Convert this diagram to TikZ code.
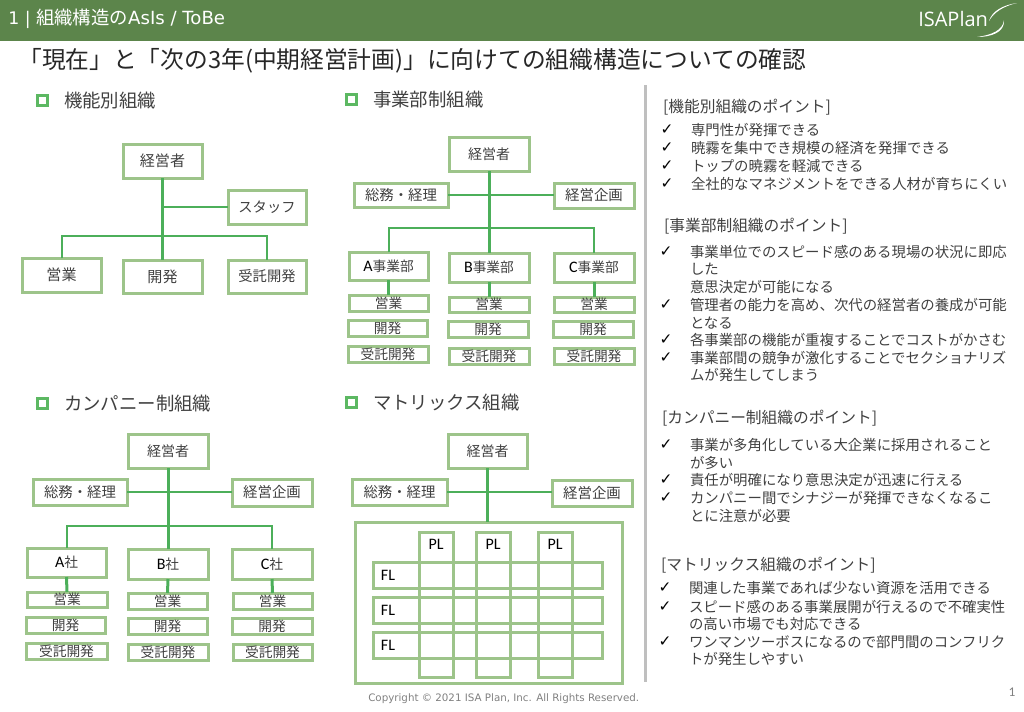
\documentclass[tikz,border=0pt]{standalone}
\usepackage{fontspec}
\setmainfont{Noto Sans CJK JP}
\newfontfamily\carlitofont{Carlito}
\newfontfamily\dejafont{DejaVu Sans}
\newfontfamily\openfont{Open Sans}
\definecolor{headgreen}{RGB}{92,133,75}
\definecolor{boxgreen}{RGB}{157,196,138}
\definecolor{linegreen}{RGB}{76,175,90}
\definecolor{markgreen}{RGB}{92,184,98}
\definecolor{inkgray}{RGB}{64,64,64}
\definecolor{rulegray}{RGB}{191,191,191}
\newcommand{\cstrut}{\vrule width0pt height.88em depth.12em\relax}
\newcommand{\fsz}[1]{\fontsize{#1}{#1}\selectfont}
\newcommand{\abc}[1]{{\carlitofont\color{black}\fontsize{12pt}{12pt}\selectfont #1}}
% name, x1, y1, x2, y2, text (outer edges in reference pixels)
\newcommand{\orgbox}[7][10.5]{\node[orgb,font=\fsz{#1},minimum width={(#5-#3-2)*0.75pt},minimum height={(#6-#4-2)*0.75pt}] (#2) at ({(#3+#5)/2},{(#4+#6)/2}) {\cstrut #7};}
\newcommand{\hdg}[4]{\node[markb] (#1m) at (#2,#3) {};\node[txt,font=\fsz{13.8}] (#1t) at (#2+21.5,#3+0.5) {\cstrut #4};}
\newcommand{\pt}[4]{\node[txt,font=\fsz{11.8}] (#1) at (#2,#3+1) {\cstrut #4};}
\newcommand{\itm}[4]{\node[chk] (#1c) at (#2-24,#3+1) {✓};\node[txt,font=\fsz{10.8}] (#1) at (#2,#3+1) {\cstrut #4};}
\newcommand{\cont}[4]{\node[txt,font=\fsz{10.8}] (#1) at (#2,#3+1) {\cstrut #4};}
\tikzset{
  orgb/.style={draw=boxgreen,line width=2.25pt,inner sep=0pt,outer sep=0pt,text=inkgray,align=center},
  markb/.style={draw=markgreen,line width=2.25pt,minimum size=7.5pt,inner sep=0pt,outer sep=0pt},
  txt/.style={anchor=west,inner sep=0pt,outer sep=0pt,text=inkgray},
  chk/.style={anchor=center,inner sep=0pt,font=\dejafont\bfseries\fontsize{11.5pt}{11.5pt}\selectfont,text=black},
  trunk/.style={draw=linegreen,line width=2.25pt},
  branch/.style={draw=linegreen,line width=1.5pt},
  lbl/.style={inner sep=0pt,outer sep=0pt,text=black,font=\carlitofont\fontsize{12pt}{12pt}\selectfont}
}
\begin{document}
\begin{tikzpicture}[x=0.75pt,y=-0.75pt]
\useasboundingbox (0,0) rectangle (1024,711);
% header
\fill[headgreen] (0,0) rectangle (1024,41);
\node[anchor=west,inner sep=0pt,text=white,font=\fsz{13.8}] (hd) at (8,19) {{\dejafont\fontsize{13pt}{13pt}\selectfont 1 | }組織構造の{\dejafont\fontsize{13.6pt}{13pt}\selectfont AsIs / ToBe}};
\node[anchor=west,inner sep=0pt,text=white,font=\openfont\fontsize{15pt}{15pt}\selectfont] (logo) at (918,19) {ISAPlan};
\fill[white] (1017,3) .. controls (1003,5) and (992,11) .. (989,21) .. controls (994,12) and (1004,6) .. (1017,3) -- cycle;
\fill[white] (1004,20) .. controls (1003,30) and (992,35) .. (977,37) .. controls (990,37) and (1005,33) .. (1004,20) -- cycle;
% title
\node[anchor=west,inner sep=0pt,text=inkgray!60!black,font=\fsz{17.8}] (title) at (18,61) {「現在」と「次の3年(中期経営計画)」に向けての組織構造についての確認};
% section heads
\hdg{ha}{42.5}{100}{機能別組織}
\hdg{hb}{351.5}{99}{事業部制組織}
\hdg{hc}{42.5}{403}{カンパニー制組織}
\hdg{hd2}{351.5}{402}{マトリックス組織}
% org 1
\orgbox[11.3]{aceo}{122}{143}{203}{179}{経営者}
\orgbox[10.7]{astaff}{227}{189}{307}{225}{スタッフ}
\orgbox[11.3]{asales}{21}{257}{102}{293}{営業}
\orgbox[11.3]{adev}{122}{259}{203}{294}{開発}
\orgbox[10.7]{acontract}{227}{259}{307}{294}{受託開発}
\coordinate (abus) at (aceo.south |- 0,236);
\draw[trunk] (aceo.south) -- (adev.north);
\draw[branch] (aceo.south |- astaff.west) -- (astaff.west);
\draw[branch] (asales.north) |- (abus) -| (acontract.north);
% org 2
\orgbox{bceo}{448}{136}{530}{172}{経営者}
\orgbox[10.8]{bsoumu}{353}{182}{449}{208}{総務・経理}
\orgbox[10.8]{bplan}{553}{182}{635}{209}{経営企画}
\orgbox[10.3]{bA}{348}{251}{429}{281}{\abc{A}事業部}
\orgbox[10.3]{bB}{448}{252}{530}{283}{\abc{B}事業部}
\orgbox[10.3]{bC}{553}{252}{635}{283}{\abc{C}事業部}
\orgbox[10.3]{bA1}{348}{294}{429}{312}{営業}
\orgbox[10.3]{bA2}{347}{319}{428}{337}{開発}
\orgbox[10.3]{bA3}{347}{345}{429}{363}{受託開発}
\orgbox[10.3]{bB1}{448}{296}{530}{313}{営業}
\orgbox[10.3]{bB2}{447}{320}{529}{338}{開発}
\orgbox[10.3]{bB3}{448}{347}{530}{365}{受託開発}
\orgbox[10.3]{bC1}{553}{296}{635}{313}{営業}
\orgbox[10.3]{bC2}{552}{320}{634}{338}{開発}
\orgbox[10.3]{bC3}{553}{347}{635}{365}{受託開発}
\coordinate (bbus) at (bceo.south |- 0,228);
\draw[trunk] (bceo.south) -- (bB.north);
\draw[branch] (bsoumu.east) -- (bsoumu.east -| bplan.west);
\draw[branch] (bA.north) |- (bbus) -| (bC.north);
\draw[trunk] (bA.south) -- (bA1.north);
\draw[trunk] (bB.south) -- (bB1.north);
\draw[trunk] (bC.south) -- (bC1.north);
% org 3
\orgbox{cceo}{127}{433}{209}{469}{経営者}
\orgbox[10.8]{csoumu}{32}{478}{128}{506}{総務・経理}
\orgbox[10.8]{cplan}{231}{478}{313}{507}{経営企画}
\orgbox[10.3]{cA}{26}{547}{107}{578}{\abc{A}社}
\orgbox[10.3]{cB}{127}{548}{209}{580}{\abc{B}社}
\orgbox[10.3]{cC}{231}{548}{313}{580}{\abc{C}社}
\orgbox[10.3]{cA1}{26}{591}{108}{608}{営業}
\orgbox[10.3]{cA2}{25}{616}{106}{634}{開発}
\orgbox[10.3]{cA3}{25}{642}{108}{660}{受託開発}
\orgbox[10.3]{cB1}{127}{592}{208}{610}{営業}
\orgbox[10.3]{cB2}{127}{617}{208}{635}{開発}
\orgbox[10.3]{cB3}{127}{643}{209}{661}{受託開発}
\orgbox[10.3]{cC1}{232}{592}{313}{610}{営業}
\orgbox[10.3]{cC2}{231}{617}{313}{635}{開発}
\orgbox[10.3]{cC3}{232}{643}{313}{661}{受託開発}
\coordinate (cbus) at (cceo.south |- 0,526);
\draw[trunk] (cceo.south) -- (cB.north);
\draw[branch] (csoumu.east) -- (csoumu.east -| cplan.west);
\draw[branch] (cA.north) |- (cbus) -| (cC.north);
\draw[trunk] (cA.south) -- (cA1.north);
\draw[trunk] (cB.south) -- (cB1.north);
\draw[trunk] (cC.south) -- (cC1.north);
% org 4
\orgbox{dceo}{447}{433}{528}{469}{経営者}
\orgbox[10.8]{dsoumu}{351}{478}{448}{506}{総務・経理}
\orgbox[10.8]{dplan}{551}{479}{633}{507}{経営企画}
\orgbox{dbig}{354}{521}{623}{684}{}
\orgbox{dc1}{418}{531}{454}{678}{}
\orgbox{dc2}{475}{531}{511}{678}{}
\orgbox{dc3}{537}{531}{573}{678}{}
\orgbox{dr1}{372}{561}{603}{589}{}
\orgbox{dr2}{372}{596}{603}{624}{}
\orgbox{dr3}{372}{631}{603}{659}{}
\draw[trunk] (dceo.south) -- (dceo.south |- dbig.north);
\draw[branch] (dsoumu.east) -- (dsoumu.east -| dplan.west);
\node[lbl] (pl1) at (436,544) {PL};
\node[lbl] (pl2) at (493,544) {PL};
\node[lbl] (pl3) at (555,544) {PL};
\node[lbl] (fl1) at (388,575) {FL};
\node[lbl] (fl2) at (388,610) {FL};
\node[lbl] (fl3) at (388,645) {FL};
% divider
\draw[draw=rulegray,line width=2.25pt] (645,85) -- (645,682);
% right text
\pt{p1}{663}{106}{[機能別組織のポイント]}
\itm{i1}{691}{129}{専門性が発揮できる}
\itm{i2}{691}{147}{暁霧を集中でき規模の経済を発揮できる}
\itm{i3}{691}{165}{トップの暁霧を軽減できる}
\itm{i4}{691}{183}{全社的なマネジメントをできる人材が育ちにくい}
\pt{p2}{664}{225}{[事業部制組織のポイント]}
\itm{j1}{690}{251}{事業単位でのスピード感のある現場の状況に即応}
\cont{j1b}{690}{268}{した}
\cont{j1c}{690}{286}{意思決定が可能になる}
\itm{j2}{690}{304}{管理者の能力を高め、次代の経営者の養成が可能}
\cont{j2b}{690}{322}{となる}
\itm{j3}{690}{339}{各事業部の機能が重複することでコストがかさむ}
\itm{j4}{690}{357}{事業部間の競争が激化することでセクショナリズ}
\cont{j4b}{690}{374}{ムが発生してしまう}
\pt{p3}{662}{417}{[カンパニー制組織のポイント]}
\itm{k1}{690}{444}{事業が多角化している大企業に採用されること}
\cont{k1b}{690}{462}{が多い}
\itm{k2}{690}{479}{責任が明確になり意思決定が迅速に行える}
\itm{k3}{690}{497}{カンパニー間でシナジーが発揮できなくなるこ}
\cont{k3b}{690}{515}{とに注意が必要}
\pt{p4}{661}{564}{[マトリックス組織のポイント]}
\itm{l1}{689}{587}{関連した事業であれば少ない資源を活用できる}
\itm{l2}{689}{606}{スピード感のある事業展開が行えるので不確実性}
\cont{l2b}{689}{623}{の高い市場でも対応できる}
\itm{l3}{689}{641}{ワンマンツーボスになるので部門間のコンフリク}
\cont{l3b}{689}{658}{トが発生しやすい}
% footer
\node[anchor=west,inner sep=0pt,text=gray,font=\dejafont\fontsize{7.72pt}{8pt}\selectfont] (copy) at (368,699) {Copyright © 2021 ISA Plan, Inc. All Rights Reserved.};
\node[inner sep=0pt,text=gray,font=\carlitofont\fontsize{10pt}{10pt}\selectfont] (pageno) at (1012,692) {1};
\end{tikzpicture}
\end{document}
